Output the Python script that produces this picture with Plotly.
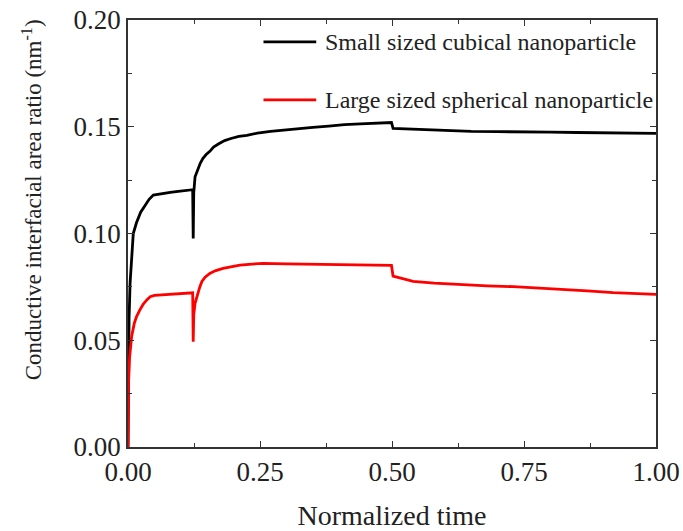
import plotly.graph_objects as go

# Small sized cubical nanoparticle (black)
t_small = [0, 0.001, 0.002, 0.004, 0.007, 0.010, 0.016, 0.024, 0.032, 0.040, 0.048,
           0.058, 0.067, 0.080, 0.095, 0.110, 0.1225, 0.1235, 0.1245, 0.127, 0.130,
           0.133, 0.137, 0.142, 0.148, 0.155, 0.162, 0.172, 0.183, 0.195, 0.210,
           0.225, 0.245, 0.270, 0.295, 0.320, 0.350, 0.380, 0.410, 0.440, 0.470,
           0.495, 0.499, 0.502, 0.52, 0.55, 0.60, 0.65, 0.70, 0.75, 0.80, 0.85,
           0.90, 0.95, 1.00]
v_small = [0, 0.040, 0.060, 0.077, 0.090, 0.100, 0.105, 0.110, 0.113, 0.116, 0.118,
           0.1185, 0.119, 0.1193, 0.1197, 0.1200, 0.1205, 0.0977, 0.1190, 0.1266, 0.1285,
           0.1310, 0.1330, 0.1352, 0.1370, 0.1385, 0.1405, 0.1420, 0.1435, 0.1445, 0.1455,
           0.1460, 0.1470, 0.1478, 0.1485, 0.1490, 0.1497, 0.1503, 0.1510, 0.1513, 0.1518,
           0.1520, 0.1520, 0.1492, 0.1490, 0.1487, 0.1483, 0.1478, 0.1477, 0.1477, 0.1475, 0.1473,
           0.1472, 0.1470, 0.1469]

# Large sized spherical nanoparticle (red)
t_large = [0, 0.0005, 0.001, 0.003, 0.007, 0.012, 0.016, 0.022, 0.029, 0.036, 0.042,
           0.050, 0.061, 0.080, 0.100, 0.1225, 0.1235, 0.1245, 0.127, 0.130, 0.136,
           0.140, 0.146, 0.155, 0.165, 0.180, 0.195, 0.212, 0.235, 0.256, 0.30,
           0.35, 0.40, 0.45, 0.495, 0.499, 0.502, 0.52, 0.54, 0.58, 0.635, 0.68,
           0.73, 0.78, 0.824, 0.87, 0.919, 0.96, 1.00]
v_large = [0, 0.020, 0.030, 0.042, 0.052, 0.058, 0.061, 0.064, 0.067, 0.069, 0.0704,
           0.0710, 0.0712, 0.0715, 0.0718, 0.0722, 0.0493, 0.0620, 0.0673, 0.0700, 0.0750,
           0.0775, 0.0795, 0.0813, 0.0825, 0.0837, 0.0845, 0.0852, 0.0857, 0.0860, 0.0858,
           0.0856, 0.0855, 0.0853, 0.0851, 0.0851, 0.0800, 0.0788, 0.0776, 0.0768, 0.0759, 0.0755,
           0.0751, 0.0745, 0.0739, 0.0731, 0.0723, 0.0719, 0.0715]

series_names = ["Small sized cubical nanoparticle", "Large sized spherical nanoparticle"]
series_colors = ["#000000", "#ff0000"]
x_ticks = [0, 0.25, 0.5, 0.75, 1.0]
x_tick_text = ["0.00", "0.25", "0.50", "0.75", "1.00"]
y_ticks = [0, 0.05, 0.10, 0.15, 0.20]
y_tick_text = ["0.00", "0.05", "0.10", "0.15", "0.20"]

FONT = "Liberation Serif, Times New Roman, serif"
TXT = "#222222"

fig = go.Figure()
fig.add_trace(go.Scatter(x=t_small, y=v_small, mode="lines", name=series_names[0],
                         line=dict(color=series_colors[0], width=2.8)))
fig.add_trace(go.Scatter(x=t_large, y=v_large, mode="lines", name=series_names[1],
                         line=dict(color=series_colors[1], width=2.8)))

axis_common = dict(
    showline=True, linecolor="#333333", linewidth=1.5, mirror="ticks",
    ticks="inside", ticklen=6, tickwidth=1.3, tickcolor="#333333",
    showgrid=False, zeroline=False, automargin=False,
    tickfont=dict(family=FONT, size=27, color=TXT),
)

fig.update_xaxes(
    range=[0, 1], tickvals=x_ticks, ticktext=x_tick_text,
    minor=dict(ticks="inside", ticklen=4, tickwidth=1.3, tickcolor="#333333", dtick=0.125, showgrid=False),
    title=dict(text="Normalized time", font=dict(family=FONT, size=28, color=TXT), standoff=20),
    **axis_common,
)
fig.update_yaxes(
    range=[0, 0.2], tickvals=y_ticks, ticktext=y_tick_text,
    minor=dict(ticks="inside", ticklen=4, tickwidth=1.3, tickcolor="#333333", dtick=0.025, showgrid=False),
    **axis_common,
)

# y-axis title (placed slightly above centre, as in the reference)
fig.add_annotation(
    text="Conductive interfacial area ratio (nm<sup>-1</sup>)",
    xref="paper", yref="paper", x=-0.182, y=0.58, xanchor="center", yanchor="middle",
    textangle=-90, showarrow=False, font=dict(family=FONT, size=23, color=TXT),
)

# Legend drawn inside the plot (long line samples like the reference)
legend_y = [0.949, 0.813]
for name, color, ly in zip(series_names, series_colors, legend_y):
    fig.add_shape(type="line", xref="paper", yref="paper",
                  x0=0.2566, x1=0.3565, y0=ly, y1=ly,
                  line=dict(color=color, width=2.8))
    fig.add_annotation(text=name, xref="paper", yref="paper", x=0.370, y=ly,
                       xanchor="left", yanchor="middle", showarrow=False,
                       font=dict(family=FONT, size=24, color=TXT))

fig.update_layout(
    width=683, height=531,
    margin=dict(l=128, r=27, t=20, b=84),
    plot_bgcolor="white", paper_bgcolor="white",
    font=dict(family=FONT, color=TXT),
    showlegend=False,
)

fig.write_html("out.html")
